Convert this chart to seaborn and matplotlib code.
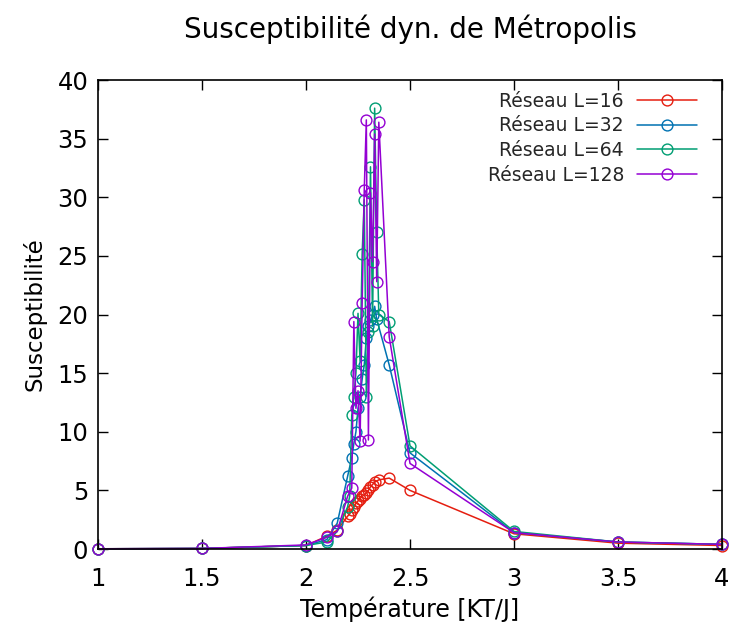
import pandas as pd
import matplotlib
matplotlib.use("Agg")
import matplotlib.pyplot as plt
import seaborn as sns

# L=16
t_16 = [1, 1.5, 2, 2.1, 2.15, 2.2, 2.21, 2.22, 2.23, 2.24, 2.25, 2.26, 2.27,
        2.28, 2.29, 2.3, 2.31, 2.32, 2.33, 2.35, 2.4, 2.5, 3, 3.5, 4]
s_16 = [0.02, 0.05, 0.3, 1.1, 1.6, 2.8, 3.0, 3.3, 3.6, 3.9, 4.1, 4.3, 4.5,
        4.6, 4.8, 5.0, 5.3, 5.5, 5.7, 5.9, 6.05, 5.0, 1.3, 0.5, 0.3]

# L=32
t_32 = [1, 1.5, 2, 2.1, 2.15, 2.2, 2.22, 2.23, 2.24, 2.25, 2.26, 2.27, 2.28,
        2.29, 2.3, 2.31, 2.32, 2.33, 2.34, 2.4, 2.5, 3, 3.5, 4]
s_32 = [0.02, 0.05, 0.3, 0.8, 2.2, 6.2, 7.8, 9.0, 10.0, 12.0, 13.0, 14.5, 15.7,
        18.0, 19.0, 19.5, 20.0, 20.7, 19.6, 15.7, 8.2, 1.4, 0.6, 0.4]

# L=64
t_64 = [1, 1.5, 2, 2.1, 2.15, 2.2, 2.21, 2.22, 2.23, 2.24, 2.25, 2.26, 2.27,
        2.28, 2.29, 2.3, 2.31, 2.32, 2.33, 2.34, 2.35, 2.4, 2.5, 3, 3.5, 4]
s_64 = [0.02, 0.05, 0.3, 0.6, 1.5, 3.6, 4.5, 11.4, 13.0, 15.0, 20.1, 16.0, 25.2,
        29.8, 13.0, 18.5, 32.6, 19.0, 37.6, 27.0, 20.0, 19.4, 8.8, 1.5, 0.6, 0.4]

# L=128
t_128 = [1, 1.5, 2, 2.1, 2.15, 2.2, 2.22, 2.23, 2.24, 2.25, 2.26, 2.27, 2.28,
         2.29, 2.3, 2.31, 2.32, 2.33, 2.34, 2.35, 2.4, 2.5, 3, 3.5, 4]
s_128 = [0.02, 0.05, 0.35, 1.0, 1.5, 4.5, 5.2, 19.4, 12.0, 13.5, 9.2, 21.0, 30.6,
         36.6, 9.3, 30.4, 24.5, 35.4, 22.8, 36.4, 18.1, 7.3, 1.4, 0.6, 0.4]

labels = ["Réseau L=16", "Réseau L=32", "Réseau L=64", "Réseau L=128"]
colors = ["#e51e10", "#0072b2", "#009e73", "#9400d3"]

frames = []
for lab, t, s in zip(labels, [t_16, t_32, t_64, t_128], [s_16, s_32, s_64, s_128]):
    frames.append(pd.DataFrame({"T": t, "S": s, "serie": lab}))
df = pd.concat(frames, ignore_index=True)

sns.set_theme(style="ticks")
plt.rcParams["font.family"] = ["DejaVu Sans"]

fig = plt.figure(figsize=(7.34, 6.37), dpi=100)
ax = fig.add_axes([0.1335, 0.1381, 0.8502, 0.7363])

sns.lineplot(
    data=df, x="T", y="S", hue="serie", hue_order=labels,
    palette=colors, sort=False, estimator=None, marker="o",
    linewidth=1.1, legend=False, ax=ax,
)

for line, c in zip(ax.lines, colors):
    line.set_markerfacecolor("none")
    line.set_markeredgecolor(c)
    line.set_markeredgewidth(1.0)
    line.set_markersize(7.8)
    line.set_clip_on(False)

ax.set_xlim(1, 4)
ax.set_ylim(0, 40)
ax.set_xticks([1, 1.5, 2, 2.5, 3, 3.5, 4])
ax.set_xticklabels(["1", "1.5", "2", "2.5", "3", "3.5", "4"])
ax.set_yticks(range(0, 41, 5))

ax.tick_params(direction="in", top=True, right=True, length=7, width=1,
               labelsize=17.5, color="black", labelcolor="black")
ax.tick_params(axis="x", pad=13)
ax.tick_params(axis="y", pad=7)
for sp in ax.spines.values():
    sp.set_color("black")
    sp.set_linewidth(1.2)

ax.set_xlabel("Température [KT/J]", fontsize=17, color="black", labelpad=4)
ax.set_ylabel("Susceptibilité", fontsize=16.5, color="black", labelpad=8)
ax.set_title("Susceptibilité dyn. de Métropolis", fontsize=20, color="black", pad=30)

ax.legend(
    handles=ax.lines, labels=labels, loc="upper right",
    bbox_to_anchor=(0.96, 0.975), frameon=False, markerfirst=False,
    fontsize=13.5, handlelength=3.2, handletextpad=0.7, labelspacing=0.3,
    borderpad=0, borderaxespad=0,
)

fig.savefig("out.png", dpi=100)
